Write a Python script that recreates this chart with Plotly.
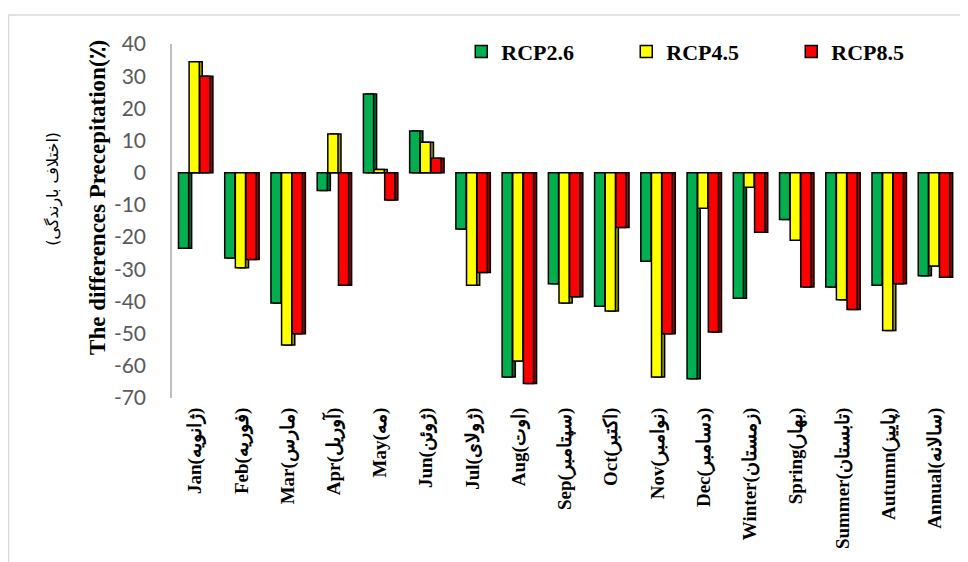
import plotly.graph_objects as go

categories = [
    "Jan(ژانویه)", "Feb(فوریه)", "Mar(مارس)", "Apr(آوریل)", "May(مه)",
    "Jun(ژوئن)", "Jul(ژولای)", "Aug(اوت)", "Sep(سپتامبر)", "Oct(اکتبر)",
    "Nov(نوامبر)", "Dec(دسامبر)", "Winter(زمستان)", "Spring(بهار)",
    "Summer(تابستان)", "Autumn(پاییز)", "Annual(سالانه)",
]

rcp26 = [-23.5, -26.5, -40.5, -5.5, 24.5, 13, -17.5, -63.5, -34.5, -41.5,
         -27.5, -64, -39, -14.5, -35.5, -35, -32]
rcp45 = [34.5, -29.5, -53.5, 12, 1, 9.5, -35, -58.5, -40.5, -43,
         -63.5, -11, -4.5, -21, -39.5, -49, -29]
rcp85 = [30, -27, -50, -35, -8.5, 4.5, -31, -65.5, -38.5, -17,
         -50, -49.5, -18.5, -35.5, -42.5, -34.5, -32.5]

y_ticks = [40, 30, 20, 10, 0, -10, -20, -30, -40, -50, -60, -70]
y_tick_text = ["40", "30", "20", "10", "0", "-10", "-20", "-30", "-40", "-50", "-60", "-70"]

series = [
    ("RCP2.6", rcp26, "#00B050", "#006b2e", -0.36),
    ("RCP4.5", rcp45, "#FFFF00", "#9a9a00", -0.13),
    ("RCP8.5", rcp85, "#FF0000", "#9a0000", 0.10),
]

serif = "Liberation Serif, Times New Roman, DejaVu Serif, serif"

fig = go.Figure()

# darker side strip behind each bar, to mimic the 3D column look
for name, vals, col, side, off in series:
    fig.add_trace(go.Bar(
        x=categories, y=vals, offset=off + 0.065, width=0.22,
        marker=dict(color=side, line=dict(color="black", width=1.5)),
        showlegend=False, hoverinfo="skip",
    ))

for name, vals, col, side, off in series:
    fig.add_trace(go.Bar(
        x=categories, y=vals, name=name, offset=off, width=0.22,
        marker=dict(color=col, line=dict(color="black", width=1.5)),
    ))

# the page body adds an 8px offset, so margins are trimmed on top/left
fig.update_layout(
    width=968, height=562,
    barmode="overlay",
    plot_bgcolor="white", paper_bgcolor="white",
    margin=dict(l=164, r=18, t=36, b=172),
    font=dict(family=serif, color="black"),
    legend=dict(
        orientation="h", x=0.368, y=0.978, xanchor="left", yanchor="middle",
        font=dict(family=serif, size=22, color="black", weight="bold"),
        entrywidth=120, itemwidth=30, bgcolor="rgba(0,0,0,0)",
    ),
    xaxis=dict(
        tickangle=-90, showgrid=False, showline=False, ticks="",
        tickfont=dict(family=serif, size=19, color="black", weight="bold"),
        ticklabelstandoff=5, automargin=False,
    ),
    yaxis=dict(
        range=[-70, 40], tickvals=y_ticks, ticktext=y_tick_text,
        showgrid=False, zeroline=False, automargin=False,
        showline=True, linecolor="#bfbfbf", linewidth=1.5,
        tickfont=dict(family="Lato, Carlito, sans-serif", size=21, color="#595959"),
        ticklabelstandoff=20,
    ),
    shapes=[dict(
        type="rect", xref="paper", yref="paper",
        x0=-0.208, x1=1.2, y0=-0.6, y1=1.082,
        line=dict(color="#d9d9d9", width=1.5), fillcolor="rgba(0,0,0,0)",
        layer="below",
    )],
    annotations=[
        dict(text="<b>The differences Precepitation(٪)</b>", xref="paper", yref="paper",
             x=-0.113, y=0.567, textangle=-90, showarrow=False,
             font=dict(family=serif, size=23, color="black")),
        dict(text="(اختلاف بارندگی)", xref="paper", yref="paper",
             x=-0.166, y=0.59, textangle=-90, showarrow=False,
             font=dict(family="DejaVu Sans, sans-serif", size=16, color="black")),
    ],
)

fig.write_html("out.html")
